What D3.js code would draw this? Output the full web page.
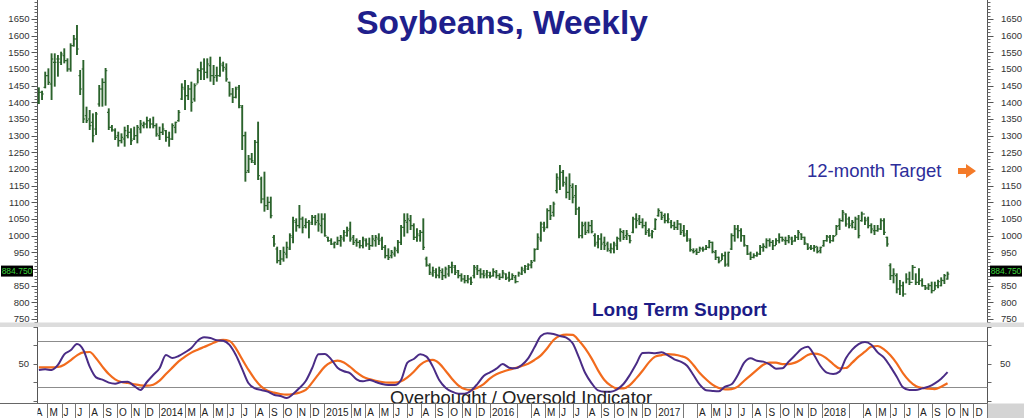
<!DOCTYPE html>
<html><head><meta charset="utf-8">
<script src="https://cdn.jsdelivr.net/npm/d3@7"></script>
<style>html,body{margin:0;padding:0;background:#fff;overflow:hidden}svg{display:block;font-family:Arial,"Liberation Sans",sans-serif}</style>
</head><body><svg id="c" width="1024" height="418"></svg>
<script>
// ---- Weekly soybean futures bars (first week ending 2013-04-12) ----
const highs=[1445,1435,1492,1502,1547,1547,1542,1552,1562,1532,
1577,1602,1632,1497,1527,1387,1377,1367,1371,1452,
1472,1503,1382,1332,1322,1312,1307,1327,1332,1322,
1327,1332,1347,1342,1357,1352,1357,1337,1327,1337,
1317,1312,1337,1342,1377,1457,1467,1452,1462,1457,
1502,1522,1532,1532,1537,1512,1507,1537,1522,1517,
1462,1443,1447,1452,1392,1312,1242,1248,1287,1342,
1177,1192,1117,1117,1002,967,957,967,982,1007,
1057,1052,1092,1057,1052,1047,1062,1062,1067,1067,
1067,997,992,982,997,1002,1017,1027,1042,1002,
992,987,997,992,994,1002,1002,1007,997,972,
962,957,967,987,1032,1067,1067,1062,1037,1022,
1017,1052,937,917,907,902,907,902,907,912,
922,912,897,887,882,882,877,912,912,902,
897,897,892,902,897,887,897,887,892,887,
882,892,907,912,917,927,962,1007,1042,1042,
1082,1092,1102,1187,1212,1197,1177,1187,1157,1152,
1087,1042,1042,1042,1047,1007,1002,1007,997,982,
977,982,997,1022,1017,1017,1002,1057,1067,1062,
1052,1042,1022,1017,1052,1082,1072,1067,1067,1047,
1042,1047,1037,1032,1017,992,962,962,967,967,
972,987,982,957,937,947,952,952,1007,1032,
1032,1022,1002,972,952,947,952,972,977,992,
992,987,992,1007,997,997,1002,997,1002,1017,
1007,997,977,972,972,967,967,987,1002,1002,
1002,1032,1052,1077,1067,1057,1047,1057,1062,1072,
1057,1057,1037,1032,1032,1052,1052,997,917,902,
887,867,862,887,892,912,887,902,872,852,
857,862,862,868,875,885,892];
const lows=[1395,1407,1442,1452,1407,1447,1477,1512,1517,1492,
1492,1567,1542,1422,1338,1338,1317,1280,1302,1387,
1387,1390,1317,1312,1287,1267,1277,1267,1292,1272,
1287,1277,1307,1322,1322,1322,1322,1297,1287,1302,
1282,1267,1287,1307,1342,1407,1377,1407,1372,1402,
1457,1467,1467,1472,1462,1452,1462,1477,1492,1462,
1417,1398,1412,1382,1257,1162,1188,1218,1212,1167,
1097,1072,1077,1052,967,917,912,922,932,957,
977,1012,1022,1007,1022,992,1032,1031,1012,1007,
997,982,972,962,972,967,982,997,982,972,
967,962,962,967,957,967,967,972,957,932,
927,932,937,947,972,997,1007,1017,987,982,
982,957,907,882,877,872,872,867,872,877,
887,882,872,862,857,857,852,872,882,872,
872,872,872,877,872,867,872,867,862,867,
857,877,882,887,897,902,922,957,982,1012,
1022,1047,1057,1127,1137,1147,1112,1107,1097,1062,
992,992,1002,1007,1007,967,962,957,957,952,
947,947,957,982,987,987,977,1007,1022,1032,
1022,1002,997,992,1017,1057,1047,1037,1037,1022,
1017,1017,1002,997,982,952,947,942,952,952,
957,962,947,927,917,927,907,907,957,982,
992,982,967,942,927,932,937,942,952,962,
967,957,972,977,982,972,977,972,982,987,
987,972,957,957,952,947,947,967,982,977,
982,1002,1017,1042,1027,1022,1022,1017,992,1042,
1032,1022,1007,1002,1012,1017,1002,967,867,857,
827,822,817,857,852,867,852,852,847,837,
837,827,837,842,848,855,868];
const opens=[1400,1430,1445,1480,1455,1520,1530,1520,1540,1525,
1500,1570,1590,1480,1500,1360,1350,1340,1320,1395,
1440,1460,1370,1325,1315,1300,1285,1290,1300,1310,
1290,1300,1320,1330,1335,1345,1335,1330,1300,1310,
1315,1295,1290,1325,1345,1410,1440,1420,1440,1410,
1455,1495,1500,1490,1510,1480,1480,1480,1510,1500,
1460,1425,1415,1445,1385,1300,1195,1230,1220,1280,
1170,1110,1090,1100,995,960,925,930,945,960,
995,1040,1030,1050,1030,1040,1040,1055,1045,1030,
1050,995,985,975,975,985,990,1000,1020,995,
985,980,970,985,975,970,985,990,990,965,
940,940,945,955,980,1025,1040,1045,1030,995,
1000,1010,930,910,885,890,880,890,880,885,
905,905,895,880,870,865,870,880,900,895,
885,885,880,880,890,880,875,885,875,870,
875,862,885,895,900,912,925,960,990,1025,
1025,1075,1070,1135,1170,1190,1155,1130,1145,1120,
1080,1000,1035,1015,1030,1000,980,990,980,975,
955,960,970,990,1010,1000,1000,1010,1050,1050,
1040,1030,1015,1005,1020,1060,1070,1060,1045,1040,
1030,1025,1035,1015,1005,985,955,955,950,960,
960,965,980,950,935,925,940,915,960,1000,
1020,1015,1000,970,945,935,940,945,965,965,
985,980,970,985,995,985,985,990,985,995,
1005,995,975,965,962,968,955,970,985,995,
985,1000,1030,1045,1065,1050,1035,1025,1050,1045,
1065,1050,1030,1015,1015,1020,1045,995,910,880,
880,840,850,825,870,860,905,860,865,850,
843,850,835,850,850,865,870];
const closes=[1430,1425,1480,1460,1530,1520,1530,1545,1525,1500,
1570,1590,1560,1440,1350,1345,1330,1300,1365,1440,
1460,1495,1325,1318,1295,1285,1295,1315,1310,1285,
1300,1325,1335,1335,1345,1335,1330,1305,1310,1320,
1295,1290,1330,1340,1370,1445,1420,1440,1400,1450,
1495,1500,1490,1515,1480,1475,1480,1515,1505,1470,
1425,1415,1440,1390,1300,1190,1230,1225,1280,1180,
1110,1090,1100,1060,975,925,930,950,965,1000,
1045,1030,1050,1025,1040,1035,1055,1040,1035,1050,
1000,985,975,980,985,995,1010,1015,990,980,
980,970,990,975,970,990,995,985,965,940,
935,950,960,980,1025,1045,1050,1030,995,1005,
1010,965,912,890,895,882,895,880,900,905,
910,890,880,870,865,870,860,905,895,885,
880,890,878,892,880,875,888,872,868,880,
862,888,900,908,912,920,958,995,1035,1020,
1075,1060,1095,1175,1190,1160,1130,1150,1115,1080,
1000,1030,1010,1030,1012,975,990,975,970,960,
962,975,992,1012,995,1005,985,1050,1045,1040,
1030,1010,1000,1012,1048,1075,1055,1045,1050,1030,
1025,1035,1010,1000,990,958,952,950,962,958,
965,980,952,935,922,940,912,950,1000,1020,
1015,1000,972,945,935,940,945,965,968,985,
980,970,985,995,988,985,995,982,995,1010,
995,978,962,962,965,952,965,985,998,985,
998,1028,1045,1070,1035,1030,1040,1050,1000,1065,
1045,1030,1020,1015,1020,1045,1010,975,880,885,
840,850,825,870,860,905,860,865,850,843,
850,835,850,862,866,880,884.75];
const lastPrice=884.75;

// ---- Overbought / Oversold indicator, sampled every 2 weeks ----
const oscFast=[43.4,44.1,43.4,48.8,60.3,64.6,71.4,65,47,35.4,
32.9,29.7,28.6,30.4,30.8,26.1,21.8,30.4,38,45.2,
59.5,56.3,58.5,62.4,67.1,75,78.6,77.9,75.4,75,
70.4,59.5,44.4,29,23.5,21.8,20,16.7,15.3,13.1,
17.4,23.9,31.5,45.2,60.3,60.6,54.9,45.8,42,
39.8,33.3,31.1,32.6,30.4,28.2,27.1,27.1,32.6,51.3,
55.2,60.3,57.8,47,32.6,24.3,20,17.8,17.8,21,
28.2,36.9,40.8,44.8,49.8,45.9,45.2,48.8,56,67.8,
80.1,83,82.2,80.1,78.3,72.2,56.7,39.8,29,21.4,
20,20,22.5,28.2,38,49.8,61.7,62.1,61.4,62.4,
59.2,54.9,52.4,48,
38,27.5,21.4,20.7,20.3,25.4,27.9,38,51.3,56,
53.4,52.4,49.5,44.8,45.2,52.4,59.2,66,68.6,59.5,
47.7,40.5,39,41.6,56,65.3,71.4,73.6,70.7,62.4,
56.7,47,36.1,24.6,21.8,21.8,23.5,25.4,29,34,
41];
const oscSlow=[46.2,46.2,46.2,46.6,49.1,53.8,59.2,62.4,62.8,56,
47,39,33.3,30.4,29.3,27.9,26.8,26.4,27.5,31.8,
39,45.9,52.7,57.8,62.1,65.3,68.2,71.1,74.3,75.8,
74.7,66.8,54.9,43.4,33.3,25.4,21,18.9,17.4,16.7,
17.4,18.9,21.8,29.7,38.7,47,51.6,53.4,51.5,
46.6,40.8,36.1,33.6,31.8,30.4,29.7,29.7,31.1,35.4,
41.5,48.8,53.1,54.2,50.5,42.6,34,26.8,22.8,21.8,
24.3,28.2,34.3,38.7,41.5,43.7,45.5,47.7,50.2,54.2,
59.2,66.8,75.8,80.4,81.5,81.2,75,66.4,55.6,43,
32.6,26.4,23.5,23.5,27.1,34.3,42.6,51.6,57.8,59.5,
60.6,59.9,58.5,56,
48.8,40.1,33.3,27.5,24,22.5,22.8,25.4,31.8,37.6,
43.4,49.1,51.3,51.3,49.8,49.8,51.3,54.9,59.5,61,
59.9,55.6,49.8,45.2,45.5,51.3,57.8,63.1,68.6,69.3,
65.7,59.2,50.5,39.8,31.5,26.1,24,23.2,22.8,25.4,
29];
const oscLevels=[25,75];
const oscLabels=[50];

// ---- Axis tick labels ----
const priceTicks=[750,800,850,900,950,1000,1050,1100,1150,1200,1250,1300,1350,1400,1450,1500,1550,1600,1650];
// one entry per month from Apr 2013 to Dec 2018; null = no cell (covered by year label)
const monthLabels=["A","M","J","J","A","S","O","N","D",
"2014",null,"M","A","M","J","J","A","S","O","N","D",
"2015",null,"M","A","M","J","J","A","S","O","N","D",
"2016",null,"","A","M","J","J","A","S","O","N","D",
"2017",null,"","A","M","J","J","A","S","O","N","D",
"2018",null,"","A","M","J","J","A","S","O","N","D"];

const firstWeek=new Date(Date.UTC(2013,3,12));
const svg=d3.select("#c");
const W=1024,H=418;
const L=37.5,R=987.5;
const x=d3.scaleUtc().domain([new Date(Date.UTC(2013,3,9)),new Date(Date.UTC(2019,0,1))]).range([L,R]);
const y=d3.scaleLinear().domain([735,1707]).range([324,0]);
const yo=d3.scaleLinear().domain([0,100]).range([410.15,317.55]);
const weekDate=i=>d3.utcDay.offset(firstWeek,7*i);

svg.append("rect").attr("width",W).attr("height",H).attr("fill","#fff");

// ---- main panel axes ----
const py=y(lastPrice)-3;
const visibleTicks=priceTicks.filter(d=>Math.abs(y(d)-py)>8);
const minor=d3.range(740,1710,10);
const gL=svg.append("g");
gL.append("line").attr("x1",L).attr("x2",L).attr("y1",0).attr("y2",323).attr("stroke","#555");
gL.append("line").attr("x1",R).attr("x2",R).attr("y1",0).attr("y2",323).attr("stroke","#555");
gL.selectAll(".mnl").data(minor).join("line").attr("x1",L-3).attr("x2",L).attr("y1",d=>Math.round(y(d))+0.5).attr("y2",d=>Math.round(y(d))+0.5).attr("stroke","#666");
gL.selectAll(".mnr").data(minor).join("line").attr("x1",R).attr("x2",R+3).attr("y1",d=>Math.round(y(d))+0.5).attr("y2",d=>Math.round(y(d))+0.5).attr("stroke","#666");
gL.selectAll(".mjl").data(priceTicks).join("line").attr("x1",L-6).attr("x2",L).attr("y1",d=>Math.round(y(d))+0.5).attr("y2",d=>Math.round(y(d))+0.5).attr("stroke","#555");
gL.selectAll(".mjr").data(priceTicks).join("line").attr("x1",R).attr("x2",R+6).attr("y1",d=>Math.round(y(d))+0.5).attr("y2",d=>Math.round(y(d))+0.5).attr("stroke","#555");
gL.selectAll(".tl").data(visibleTicks).join("text").attr("x",29.5).attr("y",d=>y(d)).attr("dy","0.35em").attr("text-anchor","end").attr("font-size",9.5).attr("fill","#333").text(d=>d);
gL.selectAll(".tr").data(visibleTicks).join("text").attr("x",1001).attr("y",d=>y(d)).attr("dy","0.35em").attr("font-size",9.5).attr("fill","#333").text(d=>d);

// ---- price bars ----
const barColor="#2b632c";
const gb=svg.append("g").attr("stroke",barColor);
highs.forEach((h,i)=>{
  const xi=x(weekDate(i));
  gb.append("line").attr("x1",xi).attr("x2",xi).attr("y1",y(h)).attr("y2",y(lows[i])).attr("stroke-width",1.9);
  gb.append("line").attr("x1",xi-1.7).attr("x2",xi).attr("y1",y(opens[i])).attr("y2",y(opens[i])).attr("stroke-width",1.1);
  gb.append("line").attr("x1",xi).attr("x2",xi+1.7).attr("y1",y(closes[i])).attr("y2",y(closes[i])).attr("stroke-width",1.1);
});

// ---- last price labels ----
[[1,33],[990,1022]].forEach(([a,b])=>{
  svg.append("rect").attr("x",a).attr("y",py-5.5).attr("width",b-a).attr("height",11).attr("fill","#000");
  svg.append("text").attr("x",(a+b)/2).attr("y",py).attr("dy","0.35em").attr("text-anchor","middle").attr("font-size",8.5).attr("fill","#3bd23b").text(d3.format(".3f")(lastPrice));
});

// ---- annotations ----
svg.append("text").attr("x",502).attr("y",34).attr("text-anchor","middle").attr("font-size",33.5).attr("font-weight","bold").attr("fill","#1f1f8c").text("Soybeans, Weekly");
svg.append("text").attr("x",807).attr("y",177).attr("font-size",18.5).attr("fill","#2d2d9a").text("12-month Target");
svg.append("path").attr("d","M958,168 L966,168 L966,164 L976,171 L966,178 L966,174 L958,174 Z").attr("fill","#f47a28");
svg.append("text").attr("x",592).attr("y",316).attr("font-size",19).attr("font-weight","bold").attr("fill","#1c1c87").text("Long Term Support");

// ---- separator band ----
svg.append("rect").attr("x",0).attr("y",322.5).attr("width",W).attr("height",4.5).attr("fill","#dcdcdc");

// ---- oscillator panel ----
const go=svg.append("g");
go.append("line").attr("x1",L).attr("x2",L).attr("y1",327).attr("y2",403).attr("stroke","#555");
go.append("line").attr("x1",R).attr("x2",R).attr("y1",327).attr("y2",403).attr("stroke","#555");
go.selectAll(".lv").data(oscLevels).join("line").attr("x1",L).attr("x2",R).attr("y1",d=>Math.round(yo(d))+0.5).attr("y2",d=>Math.round(yo(d))+0.5).attr("stroke","#8c8c8c");
const oMinor=[10,30,50,70,90];
go.selectAll(".om").data(oMinor).join("line").attr("x1",L-4).attr("x2",L).attr("y1",d=>Math.round(yo(d))+0.5).attr("y2",d=>Math.round(yo(d))+0.5).attr("stroke","#666");
go.selectAll(".omr").data(oMinor).join("line").attr("x1",R).attr("x2",R+4).attr("y1",d=>Math.round(yo(d))+0.5).attr("y2",d=>Math.round(yo(d))+0.5).attr("stroke","#666");
go.selectAll(".ol").data(oscLabels).join("text").attr("x",29).attr("y",d=>yo(d)).attr("dy","0.35em").attr("text-anchor","end").attr("font-size",9.5).attr("fill","#333").text(d=>d);
go.selectAll(".or").data(oscLabels).join("text").attr("x",1000).attr("y",d=>yo(d)).attr("dy","0.35em").attr("font-size",9.5).attr("fill","#333").text(d=>d);
const oscX=(d,k)=>x(weekDate(2*k));
const line=d3.line().x(oscX).y(d=>yo(d)).curve(d3.curveMonotoneX);
go.append("path").attr("d",line(oscSlow)).attr("fill","none").attr("stroke","#f26b1d").attr("stroke-width",2.2);
go.append("path").attr("d",line(oscFast)).attr("fill","none").attr("stroke","#4a2c86").attr("stroke-width",2);
svg.append("text").attr("x",390).attr("y",403.5).attr("font-size",18.5).attr("fill","#222").text("Overbought / Oversold Indicator");

// ---- month axis row ----
svg.append("defs").append("clipPath").attr("id","axclip").append("rect").attr("x",L).attr("y",403).attr("width",R-L).attr("height",15);
svg.append("rect").attr("x",0).attr("y",403.5).attr("width",R).attr("height",15).attr("fill","#fff");
svg.append("rect").attr("x",R).attr("y",403.5).attr("width",W-R).attr("height",15).attr("fill","#d4d4d4");
svg.append("line").attr("x1",0).attr("x2",R).attr("y1",403.5).attr("y2",403.5).attr("stroke","#666");
const months=d3.utcMonths(new Date(Date.UTC(2013,3,1)),new Date(Date.UTC(2019,0,1)));
const cells=months.map((m,i)=>({m,lab:monthLabels[i]})).filter(d=>d.lab!==null);
const ga=svg.append("g").attr("clip-path","url(#axclip)");
ga.selectAll(".sep").data(cells).join("line").attr("x1",d=>Math.round(x(d.m))+0.5).attr("x2",d=>Math.round(x(d.m))+0.5).attr("y1",403.5).attr("y2",418).attr("stroke","#777");
ga.selectAll(".ml").data(cells).join("text").attr("x",d=>x(d.m)+2).attr("y",415.5).attr("font-size",10).attr("fill","#222").text(d=>d.lab);
svg.append("line").attr("x1",R).attr("x2",R).attr("y1",403).attr("y2",418).attr("stroke","#777");
</script></body></html>
